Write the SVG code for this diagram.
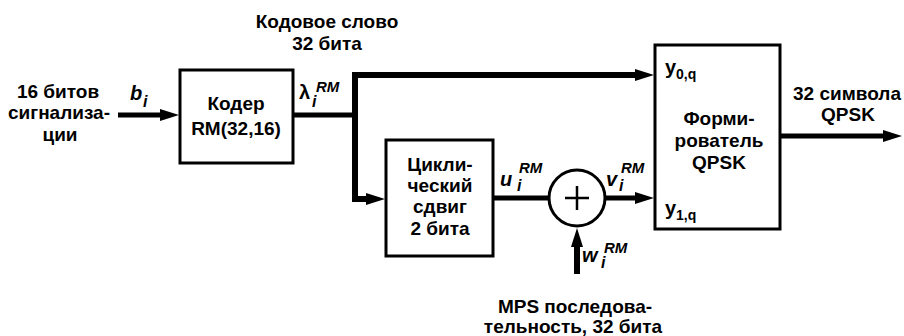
<svg xmlns="http://www.w3.org/2000/svg" width="904" height="336" viewBox="0 0 904 336">
<defs>
<style>
.box{fill:#fff;stroke:#000;stroke-width:3}
.t{font-family:"Liberation Sans",Arial,sans-serif;font-weight:bold;font-size:19px;fill:#000}
.c{text-anchor:middle}
.it{font-family:"Liberation Sans",Arial,sans-serif;font-weight:bold;font-style:italic;fill:#000}
.m{font-size:20px}
.s{font-size:16px}
.sup{font-size:15px}
.sub{font-size:14px}
.w{fill:none;stroke:#000;stroke-width:5}
.w6{stroke-width:6}
</style>
<marker id="ah" markerUnits="userSpaceOnUse" markerWidth="20" markerHeight="14" viewBox="0 -7 20 14" refX="1" refY="0" orient="auto">
<path d="M0,-6 L19,0 L0,6 z" fill="#000"/>
</marker>
</defs>
<rect width="904" height="336" fill="#fff"/>

<g id="connectors">
<line class="w" x1="118" y1="115" x2="161" y2="115" marker-end="url(#ah)"/>
<line class="w" x1="293" y1="115" x2="355" y2="115"/>
<line class="w w6" x1="355" y1="72" x2="355" y2="202"/>
<line class="w w6" x1="352" y1="75" x2="636" y2="75" marker-end="url(#ah)"/>
<line class="w w6" x1="352" y1="199" x2="367" y2="199" marker-end="url(#ah)"/>
<line class="w" x1="493" y1="198" x2="549" y2="198"/>
<line class="w" x1="605" y1="198" x2="636" y2="198" marker-end="url(#ah)"/>
<line class="w w6" x1="577" y1="274" x2="577" y2="246" marker-end="url(#ah)"/>
<line class="w" x1="780" y1="136" x2="884" y2="136" marker-end="url(#ah)"/>
</g>

<g id="input">
<text class="t c" x="58" y="98">16 битов</text>
<text class="t c" x="59" y="119">сигнализа-</text>
<text class="t c" x="60" y="141">ции</text>
<text class="it m" x="130" y="100">b</text>
<text class="it s" x="143" y="107">i</text>
</g>

<g id="coder">
<rect class="box" x="180" y="70" width="113" height="93"/>
<text class="t c" x="236" y="110">Кодер</text>
<text class="t c" x="236" y="135">RM(32,16)</text>
</g>

<g id="codeword">
<text class="t c" x="327" y="28">Кодовое слово</text>
<text class="t c" x="327" y="50">32 бита</text>
<text class="t" style="font-size:20px" x="299" y="99">λ</text>
<text class="it s" x="312" y="107">i</text>
<text class="it sup" x="316" y="92">RM</text>
</g>

<g id="shift">
<rect class="box" x="386" y="140" width="107" height="116"/>
<text class="t c" x="440" y="171">Цикли-</text>
<text class="t c" x="440" y="192">ческий</text>
<text class="t c" x="440" y="213">сдвиг</text>
<text class="t c" x="440" y="235">2 бита</text>
<text class="it m" x="500" y="186">u</text>
<text class="it s" x="517" y="191">i</text>
<text class="it sup" x="519" y="173">RM</text>
</g>

<g id="adder">
<circle cx="577" cy="198" r="28" fill="#fff" stroke="#000" stroke-width="3"/>
<path d="M565,198 H589 M577,186 V210" stroke="#000" stroke-width="2.5" fill="none"/>
<text class="it m" x="606" y="186">v</text>
<text class="it s" x="619" y="191">i</text>
<text class="it sup" x="621" y="173">RM</text>
<text class="it m" x="582" y="262">w</text>
<text class="it s" x="601" y="268">i</text>
<text class="it sup" x="604" y="253">RM</text>
</g>

<g id="mps">
<text class="t c" x="575" y="313">MPS последова-</text>
<text class="t c" x="573" y="333">тельность, 32 бита</text>
</g>

<g id="qpsk">
<rect class="box" x="655" y="45" width="125" height="184"/>
<text class="t" style="font-size:20px" x="665" y="74">y</text>
<text class="t sub" x="676" y="79">0,q</text>
<text class="t c" x="719" y="125">Форми-</text>
<text class="t c" x="719" y="147">рователь</text>
<text class="t c" x="719" y="169">QPSK</text>
<text class="t" style="font-size:20px" x="665" y="215">y</text>
<text class="t sub" x="676" y="220">1,q</text>
</g>

<g id="output">
<text class="t c" x="847" y="100">32 символа</text>
<text class="t c" x="848" y="121">QPSK</text>
</g>
</svg>
